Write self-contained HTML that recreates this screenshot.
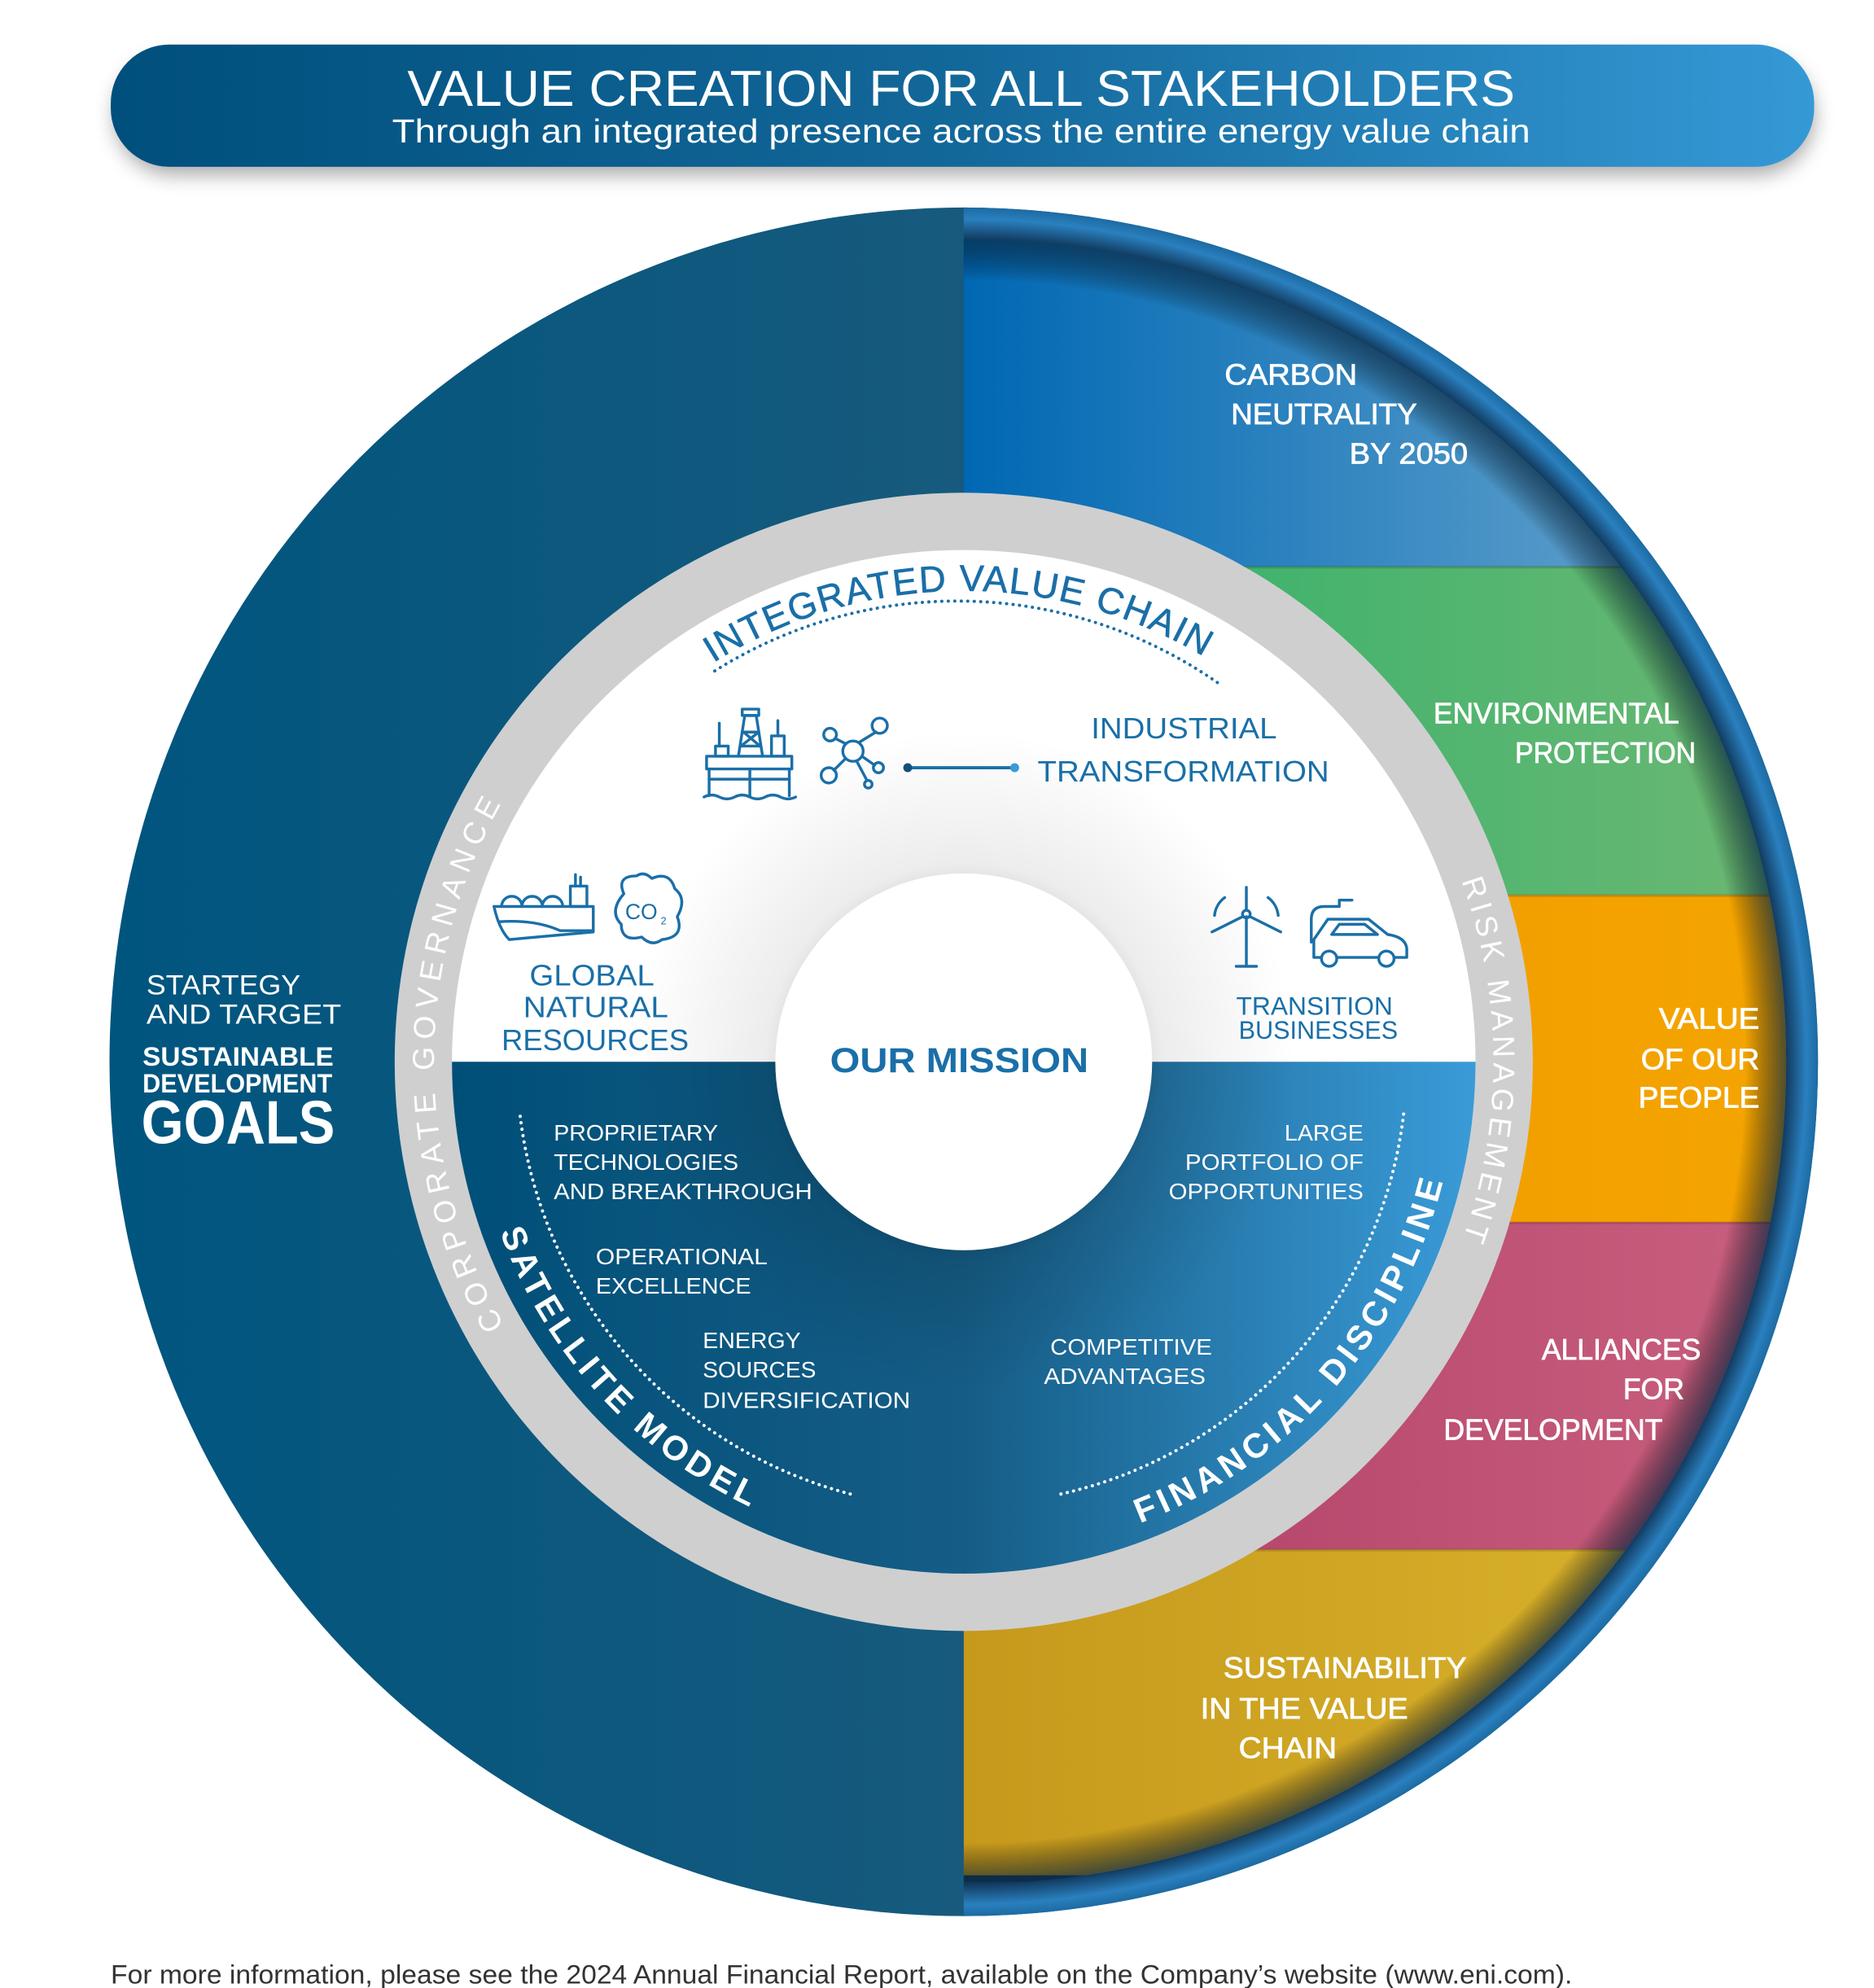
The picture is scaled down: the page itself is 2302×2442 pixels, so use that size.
<!DOCTYPE html>
<html><head><meta charset="utf-8"><style>
html,body{margin:0;padding:0;background:#fff;}
svg{display:block;}
text{font-family:"Liberation Sans",sans-serif;}
</style></head><body>
<svg width="2302" height="2442" viewBox="0 0 1472 1561.5" xmlns="http://www.w3.org/2000/svg">
<defs>
<linearGradient id="hdr" x1="0" x2="1" y1="0" y2="0"><stop offset="0" stop-color="#004f7c"/><stop offset="0.5" stop-color="#13689a"/><stop offset="1" stop-color="#3599d6"/></linearGradient>
<linearGradient id="leftG" x1="97" x2="757" y1="0" y2="0" gradientUnits="userSpaceOnUse"><stop offset="0" stop-color="#00557f"/><stop offset="1" stop-color="#175a7d"/></linearGradient>
<radialGradient id="ring" cx="757" cy="834" r="672" gradientUnits="userSpaceOnUse"><stop offset="0.9" stop-color="#0d3452"/><stop offset="0.96" stop-color="#10375a"/><stop offset="0.985" stop-color="#2a80bf"/><stop offset="1" stop-color="#1b689f"/></radialGradient>
<linearGradient id="bBlue" x1="0" x2="1"><stop offset="0" stop-color="#0068b3"/><stop offset="1" stop-color="#72abd0"/></linearGradient>
<linearGradient id="bGreen" x1="0" x2="1"><stop offset="0" stop-color="#2bb06a"/><stop offset="1" stop-color="#6cb873"/></linearGradient>
<linearGradient id="bOrange" x1="0" x2="1"><stop offset="0" stop-color="#ef9600"/><stop offset="1" stop-color="#f4a500"/></linearGradient>
<linearGradient id="bPink" x1="0" x2="1"><stop offset="0" stop-color="#ae3b64"/><stop offset="1" stop-color="#c9607f"/></linearGradient>
<linearGradient id="bGold" x1="0" x2="1"><stop offset="0" stop-color="#c6991c"/><stop offset="1" stop-color="#dbb62e"/></linearGradient>
<linearGradient id="botG" x1="355" x2="1159" y1="0" y2="0" gradientUnits="userSpaceOnUse"><stop offset="0" stop-color="#004f78"/><stop offset="0.5" stop-color="#155d86"/><stop offset="1" stop-color="#3a9bd8"/></linearGradient>
<radialGradient id="cshad" cx="757" cy="834" r="260" gradientUnits="userSpaceOnUse"><stop offset="0.5" stop-color="#000" stop-opacity="0.28"/><stop offset="0.6" stop-color="#000" stop-opacity="0.12"/><stop offset="1" stop-color="#000" stop-opacity="0"/></radialGradient>
<radialGradient id="edgeSh" cx="757" cy="834" r="646" gradientUnits="userSpaceOnUse"><stop offset="0.95" stop-color="#000" stop-opacity="0"/><stop offset="1" stop-color="#0a2a45" stop-opacity="0.7"/></radialGradient>
<clipPath id="bandClip"><circle cx="757" cy="834" r="646"/></clipPath>
<clipPath id="botHalf"><rect x="300" y="834" width="900" height="420"/></clipPath>
<clipPath id="topHalf"><rect x="300" y="420" width="900" height="414"/></clipPath>
<filter id="hsh" x="-5%" y="-30%" width="110%" height="180%"><feGaussianBlur stdDeviation="8"/></filter>
<path id="pIVC" d="M 436.6 649 A 370 370 0 0 1 1077.4 649" fill="none"/>
<path id="pCG" d="M 438.3 1101.4 A 416 416 0 0 1 438.3 566.6" fill="none"/>
<path id="pRM" d="M 1075.7 566.6 A 416 416 0 0 1 1075.7 1101.4" fill="none"/>
<path id="pSM" d="M 369 834 A 388 388 0 0 0 723.2 1220.5" fill="none"/>
<path id="pFD" d="M 781.9 1221.2 A 388 388 0 0 0 1144.2 809" fill="none"/>
</defs>

<rect x="90" y="45" width="1335" height="92" rx="46" fill="#000" opacity="0.35" filter="url(#hsh)"/>
<rect x="87" y="35" width="1338" height="96" rx="46" fill="url(#hdr)"/>
<text x="320" y="83" font-size="40" fill="#fff" textLength="870" lengthAdjust="spacingAndGlyphs">VALUE CREATION FOR ALL STAKEHOLDERS</text>
<text x="308" y="112" font-size="26" fill="#fff" textLength="894" lengthAdjust="spacingAndGlyphs">Through an integrated presence across the entire energy value chain</text>

<circle cx="757" cy="834" r="671" fill="url(#leftG)"/>
<path d="M757 163 A 671 671 0 0 1 757 1505 Z" fill="url(#ring)"/>
<g clip-path="url(#bandClip)">
<rect x="757" y="188" width="650" height="258" fill="url(#bBlue)"/>
<rect x="757" y="445" width="650" height="259" fill="url(#bGreen)"/>
<rect x="757" y="703" width="650" height="258" fill="url(#bOrange)"/>
<rect x="757" y="960" width="650" height="258" fill="url(#bPink)"/>
<rect x="757" y="1217" width="650" height="256" fill="url(#bGold)"/>
<rect x="757" y="188" width="650" height="1290" fill="url(#edgeSh)"/>
<line x1="757" y1="445.5" x2="1407" y2="445.5" stroke="#000" stroke-opacity="0.15" stroke-width="2"/>
<line x1="757" y1="703.5" x2="1407" y2="703.5" stroke="#000" stroke-opacity="0.15" stroke-width="2"/>
<line x1="757" y1="960.5" x2="1407" y2="960.5" stroke="#000" stroke-opacity="0.15" stroke-width="2"/>
<line x1="757" y1="1217.5" x2="1407" y2="1217.5" stroke="#000" stroke-opacity="0.15" stroke-width="2"/>
</g>

<g fill="#fff" font-size="23" stroke="#fff" stroke-width="0.5">
<text x="962" y="302" textLength="104" lengthAdjust="spacingAndGlyphs">CARBON</text>
<text x="967" y="333" textLength="146" lengthAdjust="spacingAndGlyphs">NEUTRALITY</text>
<text x="1060" y="364" textLength="93" lengthAdjust="spacingAndGlyphs">BY 2050</text>
<text x="1126" y="568" textLength="193" lengthAdjust="spacingAndGlyphs">ENVIRONMENTAL</text>
<text x="1190" y="599" textLength="142" lengthAdjust="spacingAndGlyphs">PROTECTION</text>
<text x="1303" y="808" textLength="79" lengthAdjust="spacingAndGlyphs">VALUE</text>
<text x="1289" y="840" textLength="93" lengthAdjust="spacingAndGlyphs">OF OUR</text>
<text x="1287" y="870" textLength="95" lengthAdjust="spacingAndGlyphs">PEOPLE</text>
<text x="1211" y="1068" textLength="125" lengthAdjust="spacingAndGlyphs">ALLIANCES</text>
<text x="1275" y="1099" textLength="48" lengthAdjust="spacingAndGlyphs">FOR</text>
<text x="1134" y="1131" textLength="172" lengthAdjust="spacingAndGlyphs">DEVELOPMENT</text>
<text x="961" y="1318" textLength="191" lengthAdjust="spacingAndGlyphs">SUSTAINABILITY</text>
<text x="943" y="1350" textLength="163" lengthAdjust="spacingAndGlyphs">IN THE VALUE</text>
<text x="973" y="1381" textLength="77" lengthAdjust="spacingAndGlyphs">CHAIN</text>
</g>

<g fill="#fff">
<text x="115" y="781" font-size="22" textLength="121" lengthAdjust="spacingAndGlyphs">STARTEGY</text>
<text x="115" y="804" font-size="22" textLength="153" lengthAdjust="spacingAndGlyphs">AND TARGET</text>
<text x="112" y="837" font-size="21" font-weight="bold" textLength="150" lengthAdjust="spacingAndGlyphs">SUSTAINABLE</text>
<text x="112" y="858" font-size="21" font-weight="bold" textLength="149" lengthAdjust="spacingAndGlyphs">DEVELOPMENT</text>
<text x="111" y="898" font-size="48" font-weight="bold" textLength="152" lengthAdjust="spacingAndGlyphs">GOALS</text>
</g>

<circle cx="757" cy="834" r="447" fill="#cfcfcf"/>
<circle cx="757" cy="834" r="402" fill="#fff"/>
<circle cx="757" cy="834" r="402" fill="url(#botG)" clip-path="url(#botHalf)"/>
<circle cx="757" cy="834" r="260" fill="url(#cshad)" clip-path="url(#topHalf)" opacity="0.6"/>
<circle cx="757" cy="834" r="260" fill="url(#cshad)" clip-path="url(#botHalf)"/>
<circle cx="757" cy="834" r="148" fill="#fff"/>
<text x="652" y="842" font-size="27" font-weight="bold" fill="#1a6fa8" textLength="203" lengthAdjust="spacingAndGlyphs">OUR MISSION</text>

<text font-size="24" fill="#fff" letter-spacing="5.3"><textPath href="#pCG" startOffset="50%" text-anchor="middle">CORPORATE GOVERNANCE</textPath></text>
<text font-size="24" fill="#fff" letter-spacing="3.7"><textPath href="#pRM" startOffset="50%" text-anchor="middle">RISK MANAGEMENT</textPath></text>
<text font-size="29" fill="#1a6fa8" letter-spacing="1" stroke="#1a6fa8" stroke-width="0.4"><textPath href="#pIVC" startOffset="180">INTEGRATED VALUE CHAIN</textPath></text>
<text font-size="27" font-weight="bold" fill="#fff" letter-spacing="3.5"><textPath href="#pSM" startOffset="50%" text-anchor="middle">SATELLITE MODEL</textPath></text>
<text font-size="27" font-weight="bold" fill="#fff" letter-spacing="3.6"><textPath href="#pFD" startOffset="50%" text-anchor="middle">FINANCIAL DISCIPLINE</textPath></text>

<path d="M 561.4 527 A 358 358 0 0 1 958.1 537.4" fill="none" stroke="#1a6fa8" stroke-width="2.5" stroke-dasharray="0.1 5" stroke-linecap="round"/>
<path d="M 408.6 876.8 A 351 351 0 0 0 669.1 1173.8" fill="none" stroke="#fff" stroke-width="2.5" stroke-dasharray="0.1 5" stroke-linecap="round"/>
<path d="M 833.3 1173.5 A 348 348 0 0 0 1102.6 874.6" fill="none" stroke="#fff" stroke-width="2.5" stroke-dasharray="0.1 5" stroke-linecap="round"/>

<g fill="#1a6fa8">
<text x="857" y="580" font-size="23" textLength="146" lengthAdjust="spacingAndGlyphs">INDUSTRIAL</text>
<text x="815" y="614" font-size="23" textLength="229" lengthAdjust="spacingAndGlyphs">TRANSFORMATION</text>
<text x="416" y="774" font-size="23" textLength="98" lengthAdjust="spacingAndGlyphs">GLOBAL</text>
<text x="411" y="799" font-size="23" textLength="114" lengthAdjust="spacingAndGlyphs">NATURAL</text>
<text x="394" y="825" font-size="23" textLength="147" lengthAdjust="spacingAndGlyphs">RESOURCES</text>
<text x="971" y="797" font-size="20" textLength="123" lengthAdjust="spacingAndGlyphs">TRANSITION</text>
<text x="973" y="816" font-size="20" textLength="125" lengthAdjust="spacingAndGlyphs">BUSINESSES</text>
</g>
<g fill="#fff" font-size="18">
<text x="435" y="896" textLength="129" lengthAdjust="spacingAndGlyphs">PROPRIETARY</text>
<text x="435" y="919" textLength="145" lengthAdjust="spacingAndGlyphs">TECHNOLOGIES</text>
<text x="435" y="942" textLength="203" lengthAdjust="spacingAndGlyphs">AND BREAKTHROUGH</text>
<text x="468" y="993" textLength="135" lengthAdjust="spacingAndGlyphs">OPERATIONAL</text>
<text x="468" y="1016" textLength="122" lengthAdjust="spacingAndGlyphs">EXCELLENCE</text>
<text x="552" y="1059" textLength="77" lengthAdjust="spacingAndGlyphs">ENERGY</text>
<text x="552" y="1082" textLength="89" lengthAdjust="spacingAndGlyphs">SOURCES</text>
<text x="552" y="1106" textLength="163" lengthAdjust="spacingAndGlyphs">DIVERSIFICATION</text>
<text x="1009" y="896" textLength="62" lengthAdjust="spacingAndGlyphs">LARGE</text>
<text x="931" y="919" textLength="140" lengthAdjust="spacingAndGlyphs">PORTFOLIO OF</text>
<text x="918" y="942" textLength="153" lengthAdjust="spacingAndGlyphs">OPPORTUNITIES</text>
<text x="825" y="1064" textLength="127" lengthAdjust="spacingAndGlyphs">COMPETITIVE</text>
<text x="820" y="1087" textLength="127" lengthAdjust="spacingAndGlyphs">ADVANTAGES</text>
</g>

<g fill="none" stroke="#1a6fa8" stroke-width="2.2" stroke-linecap="round" stroke-linejoin="round">
<rect x="555" y="594" width="67" height="10"/>
<line x1="557" y1="604" x2="557" y2="625"/><line x1="620" y1="604" x2="620" y2="625"/>
<line x1="557" y1="612" x2="620" y2="612"/><line x1="589" y1="604" x2="589" y2="625"/>
<path d="M553 626 q6 -3 12 0 t12 0 t12 0 t12 0 t12 0 t12 0"/>
<path d="M580 594 L585 562 L594 562 L599 594"/><rect x="583" y="557" width="13" height="5"/>
<line x1="583" y1="575" x2="596" y2="575"/><line x1="582" y1="586" x2="597" y2="586"/>
<line x1="584" y1="575" x2="597" y2="586"/><line x1="596" y1="575" x2="582" y2="586"/>
<rect x="606" y="578" width="10" height="16"/><line x1="611" y1="578" x2="611" y2="566"/>
<rect x="562" y="586" width="10" height="8"/><line x1="565" y1="586" x2="565" y2="568"/>
<circle cx="670" cy="590" r="8"/><circle cx="652" cy="577" r="5"/><circle cx="691" cy="570" r="6"/>
<circle cx="651" cy="609" r="6"/><circle cx="690" cy="603" r="4"/><circle cx="682" cy="616" r="3"/>
<line x1="664" y1="584" x2="656" y2="580"/><line x1="675" y1="583" x2="688" y2="575"/>
<line x1="664" y1="596" x2="655" y2="605"/><line x1="677" y1="594" x2="687" y2="601"/><line x1="673" y1="598" x2="681" y2="613"/>
<path d="M388 712 L466 712 L466 732 L400 738 Q392 730 388 712 Z"/>
<path d="M392 724 Q420 722 440 731 L466 731"/>
<path d="M394 712 a8 8 0 0 1 16 0 M410 712 a8 8 0 0 1 16 0 M426 712 a8 8 0 0 1 16 0"/>
<rect x="448" y="696" width="13" height="16"/><line x1="452" y1="696" x2="452" y2="687"/><line x1="456" y1="696" x2="456" y2="689"/>
<path d="M490 702 q-6 -14 10 -14 q6 -4 12 2 q14 -6 18 8 q10 8 2 22 q6 16 -12 18 q-8 6 -16 -2 q-16 4 -16 -10 q-10 -10 2 -24 Z"/>
<text x="491" y="722" font-size="17" fill="#1a6fa8" stroke="none">CO</text><text x="519" y="726" font-size="8" fill="#1a6fa8" stroke="none">2</text>
<line x1="979" y1="720" x2="979" y2="758"/><line x1="971" y1="759" x2="987" y2="759"/>
<circle cx="979" cy="718" r="3"/><path d="M979 715 L979 697"/><path d="M976 720 L952 732"/><path d="M982 720 L1006 732"/>
<path d="M962 705 a20 20 0 0 0 -8 14 M996 705 a20 20 0 0 1 8 14"/>
<path d="M1030 740 L1030 722 Q1030 712 1040 712 L1052 712 L1052 707 L1062 707"/>
<path d="M1032 745 L1032 738 L1043 722 L1075 722 L1090 734 Q1104 736 1105 745 L1105 752 L1032 752 Z"/>
<circle cx="1044" cy="753" r="6" fill="#fff"/><circle cx="1089" cy="753" r="6" fill="#fff"/>
<path d="M1046 734 L1052 726 L1072 726 L1082 734 Z"/>
</g>
<line x1="713" y1="603" x2="797" y2="603" stroke="#1a6fa8" stroke-width="2.5"/>
<circle cx="713" cy="603" r="3.5" fill="#12507c"/><circle cx="797" cy="603" r="3.5" fill="#3a9ad6"/>

<text x="87" y="1558" font-size="21" fill="#333" textLength="1148" lengthAdjust="spacingAndGlyphs">For more information, please see the 2024 Annual Financial Report, available on the Company’s website (www.eni.com).</text>
</svg>
</body></html>
